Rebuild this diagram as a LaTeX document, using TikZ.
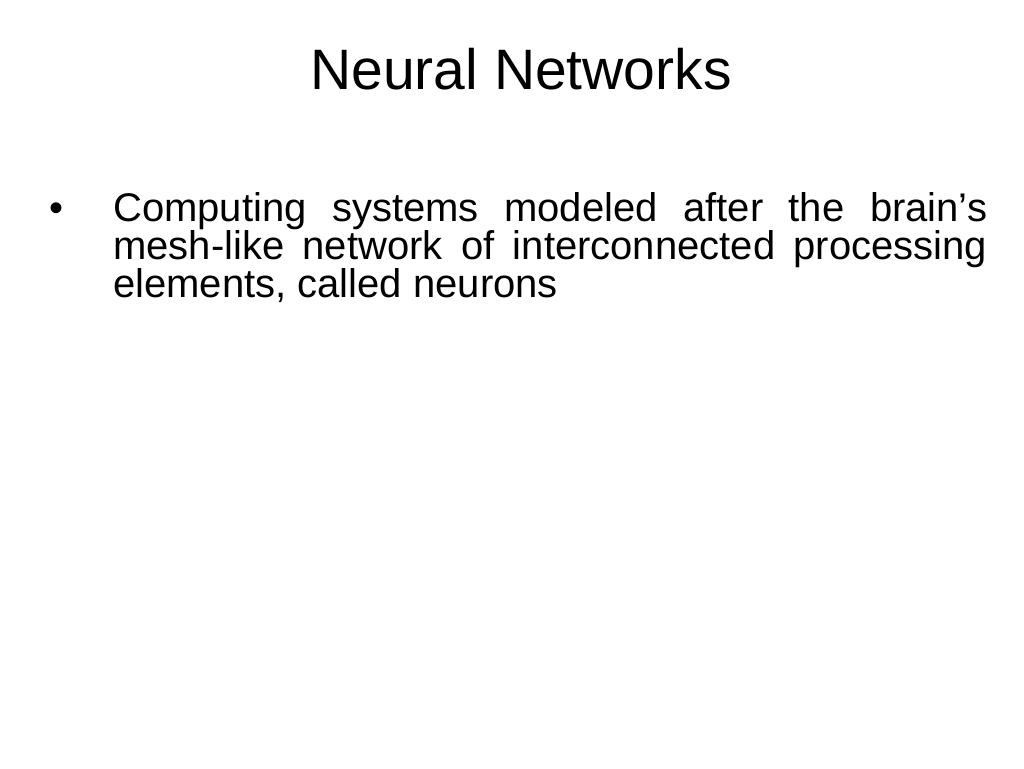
\documentclass[tikz,border=0pt]{standalone}
\usepackage{fontspec}
\setmainfont{Liberation Sans}
\usetikzlibrary{positioning}

\begin{document}
\begin{tikzpicture}[x=1pt, y=-1pt, inner sep=0pt]
    \useasboundingbox [fill=white] (0,0) rectangle (1024,768);
    \node [anchor=base, font=\fontsize{57}{64}\selectfont] (title) at (521,89) {Neural Networks};
    \node [anchor=base, font=\fontsize{40}{37}\selectfont] (bullet) at (57,221) {\textbullet};
    \node [anchor=base west, text width=874pt, align=justify, font=\fontsize{40}{37}\selectfont] (body) at (113,221)
      {\hyphenpenalty=10000 Computing systems modeled after the brain’s\linebreak
       mesh-like network of interconnected processing\linebreak
       elements, called neurons};
\end{tikzpicture}
\end{document}
